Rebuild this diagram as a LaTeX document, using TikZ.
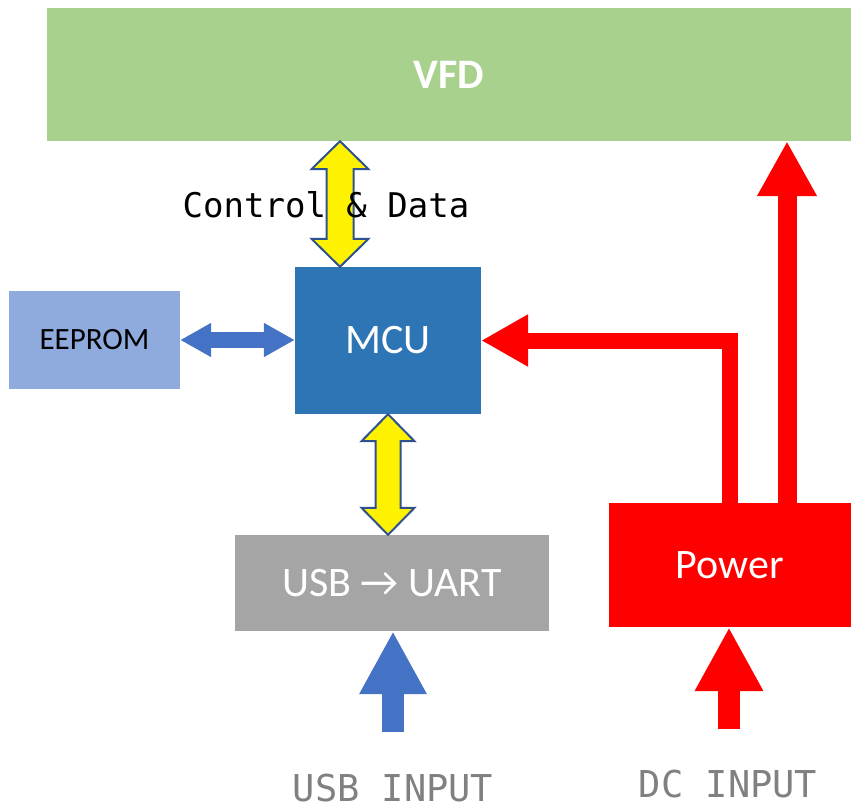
\documentclass[tikz,border=0pt]{standalone}
\usepackage{fontspec}
\setmainfont{Carlito}
\setmonofont{DejaVu Sans Mono}
\usetikzlibrary{arrows.meta,calc}

\definecolor{vfdgreen}{HTML}{A9D18E}
\definecolor{eepblue}{HTML}{8FAADC}
\definecolor{mcublue}{HTML}{2E75B6}
\definecolor{usbgray}{HTML}{A5A5A5}
\definecolor{linkblue}{HTML}{4472C4}
\definecolor{edgeblue}{HTML}{2F528F}
\definecolor{labelgray}{HTML}{808080}

\tikzset{
  block/.style={inner sep=0pt, text=white, font=\fontsize{42}{50}\selectfont},
  monolabel/.style={inner sep=0pt, font=\ttfamily\fontsize{37}{44}\selectfont, text=labelgray},
  databus/.style={fill=yellow, draw=edgeblue, line width=2pt, line join=miter},
}

% vertical double block arrow: top, bottom, half head, half shaft, head length
\newcommand{\dblarrow}[5]{%
  \draw[databus] let \p1=(#1), \p2=(#2) in
    (\x1,\y1) -- (\x1+#3,\y1-#5) -- (\x1+#4,\y1-#5) -- (\x1+#4,\y2+#5)
    -- (\x1+#3,\y2+#5) -- (\x1,\y2) -- (\x1-#3,\y2+#5) -- (\x1-#4,\y2+#5)
    -- (\x1-#4,\y1-#5) -- (\x1-#3,\y1-#5) -- cycle;}

\begin{document}
\begin{tikzpicture}
    [x=1pt,y=-1pt]
    \useasboundingbox (0,0) rectangle (851,811);

    % boxes
    \node[block, fill=vfdgreen, minimum width=804pt, minimum height=133pt,
      font=\bfseries\fontsize{42}{50}\selectfont] (vfd) at (449,74.5) {VFD};
    \node[block, fill=eepblue, text=black, minimum width=171pt, minimum height=98pt,
      font=\fontsize{31}{37}\selectfont] (eeprom) at (94.5,340) {EEPROM};
    \node[block, fill=mcublue, minimum width=186pt, minimum height=147pt] (mcu) at (388,340.5) {MCU};
    \node[block, fill=usbgray, minimum width=314pt, minimum height=96pt] (usb) at (392,583) {USB → UART};
    \node[block, fill=red, minimum width=242pt, minimum height=124pt] (power) at (730,565) {Power};

    % bottom labels
    \node[monolabel] (usbin) at (393,788) {USB INPUT};
    \node[monolabel] (dcin) at (728,784) {DC INPUT};

    % yellow data arrows
    \coordinate (ct) at ($(mcu.north)+(-48,0)$);
    \dblarrow{ct |- vfd.south}{ct}{28.5pt}{13.5pt}{28pt}
    \dblarrow{mcu.south}{mcu.south |- usb.north}{26.5pt}{12.5pt}{27pt}

    % eeprom link
    \draw[linkblue, line width=16pt, {Triangle[length=31pt,width=32pt]}-{Triangle[length=31pt,width=32pt]}]
      (eeprom.east) -- (eeprom.east -| mcu.west);

    % power lines
    \draw[red, line width=16pt, line join=miter, -{Triangle[length=47pt,width=49pt]}]
      (power.north) |- (mcu.east);
    \coordinate (pv) at ($(power.north)+(57,0)$);
    \draw[red, line width=19pt, -{Triangle[length=55pt,width=56pt]}] (pv) -- (pv |- vfd.south);

    % inputs
    \coordinate (usbtail) at (393,732);
    \draw[linkblue, line width=22pt, -{Triangle[length=63pt,width=63pt]}] (usbtail) -- (usbtail |- usb.south);
    \coordinate (dctail) at (729,729);
    \draw[red, line width=22pt, -{Triangle[length=64pt,width=64pt]}] (dctail) -- (dctail |- power.south);

    \node[inner sep=0pt, font=\ttfamily\fontsize{34}{40}\selectfont] (ctrl) at (326,205) {Control \& Data};
\end{tikzpicture}
\end{document}
